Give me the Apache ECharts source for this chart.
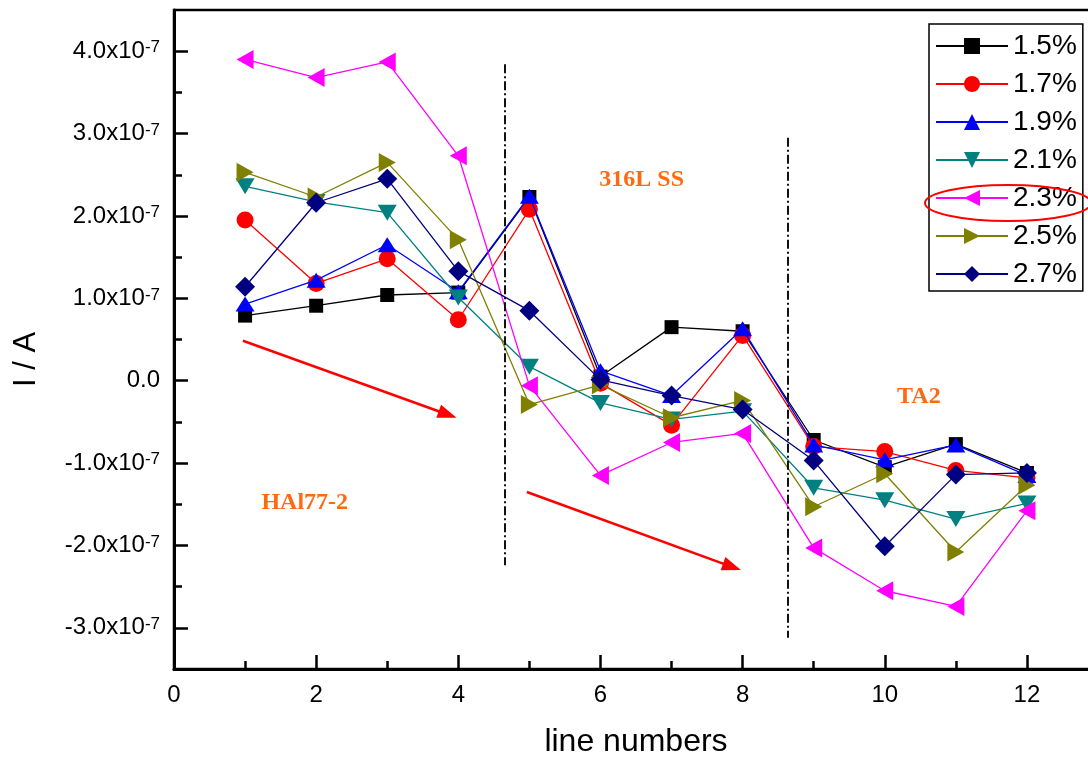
<!DOCTYPE html>
<html><head><meta charset="utf-8">
<script src="https://cdn.jsdelivr.net/npm/echarts@6/dist/echarts.min.js"></script>
<style>html,body{margin:0;padding:0;background:#fff}#c{width:1088px;height:758px}</style>
</head><body><div id="c"></div>
<script>
// x categories (line numbers)
const lineNumbers = [1,2,3,4,5,6,7,8,9,10,11,12];
// current values in units of 1e-7 A
const s15 = [0.79, 0.91, 1.04, 1.07, 2.23, 0.05, 0.65, 0.60, -0.72, -1.05, -0.77, -1.12];
const s17 = [1.95, 1.18, 1.48, 0.74, 2.08, -0.03, -0.54, 0.55, -0.80, -0.86, -1.09, -1.18];
const s19 = [0.93, 1.22, 1.65, 1.08, 2.24, 0.12, -0.18, 0.63, -0.78, -0.96, -0.78, -1.15];
const s21 = [2.36, 2.17, 2.04, 1.01, 0.17, -0.27, -0.47, -0.37, -1.30, -1.45, -1.68, -1.49];
const s23 = [3.90, 3.68, 3.87, 2.73, -0.06, -1.15, -0.75, -0.64, -2.03, -2.55, -2.74, -1.58];
const s25 = [2.53, 2.23, 2.65, 1.71, -0.29, -0.05, -0.45, -0.24, -1.53, -1.13, -2.08, -1.27];
const s27 = [1.14, 2.16, 2.45, 1.33, 0.85, 0.01, -0.18, -0.35, -0.97, -2.01, -1.14, -1.12];
const seriesNames = ['1.5%','1.7%','1.9%','2.1%','2.3%','2.5%','2.7%'];
// tick values
const xMajorTicks = [0,2,4,6,8,10,12];
const xMinorTicks = [1,3,5,7,9,11];
const yMajorTicks = [-3,-2,-1,0,1,2,3,4];
const yMinorTicks = [-2.5,-1.5,-0.5,0.5,1.5,2.5,3.5];
// annotations
const annotTexts = ['HAl77-2','316L SS','TA2'];
const annotX = [1.84, 6.58, 10.48];
const annotY = [-1.48, 2.44, -0.20];
const dividerX = [4.65, 8.64];
const dividerTop = [3.84, 2.95];
const dividerBottom = [-2.24, -3.12];
const arrowStart = [[0.97, 0.485], [4.965, -1.351]];
const arrowEnd = [[3.85, -0.41], [7.85, -2.26]];

const allValues = [s15, s17, s19, s21, s23, s25, s27];
const colors = ['#000000','#FF0000','#0000FF','#008080','#FF00FF','#808000','#000080'];
const symbols = ['rect','circle','path://M5,0L10,10L0,10Z','path://M0,0L10,0L5,10Z','path://M0,5L10,0L10,10Z','path://M0,0L10,5L0,10Z','diamond'];
const symbolSizes = [14, 17, [19,15], [19,16], [17,19], [17,19], 20];

const FONT = 'Liberation Sans';
const chart = echarts.init(document.getElementById('c'), null, {renderer:'canvas'});

const series = allValues.map((vals, i) => ({
  name: seriesNames[i],
  type: 'line',
  data: lineNumbers.map((x, k) => [x, vals[k]]),
  symbol: symbols[i],
  symbolSize: symbolSizes[i],
  showAllSymbol: true,
  color: colors[i],
  itemStyle: {color: colors[i], opacity: 1},
  lineStyle: {color: colors[i], width: 1.3},
  z: 2 + i * 0.01,
  emphasis: {disabled: true}
}));

const markLineData = [];
dividerX.forEach((x, i) => {
  markLineData.push([
    {coord: [x, dividerTop[i]], symbol: 'none', lineStyle: {color: '#111', width: 2, type: [9,3,2,3]}},
    {coord: [x, dividerBottom[i]], symbol: 'none'}
  ]);
});
arrowStart.forEach((s, i) => {
  markLineData.push([
    {coord: s, symbol: 'none', lineStyle: {color: '#FF0000', width: 2.5, type: 'solid'}},
    {coord: arrowEnd[i], symbol: 'triangle', symbolSize: [14, 19]}
  ]);
});

series.push({
  name: 'annot',
  type: 'scatter',
  symbolSize: 0,
  silent: true,
  itemStyle: {opacity: 1},
  data: annotTexts.map((t, i) => ({name: t, value: [annotX[i], annotY[i]]})),
  label: {show: true, position: 'inside', formatter: '{b}', color: '#FF6A10', opacity: 1,
          fontFamily: 'Liberation Serif', fontWeight: 'bold', fontSize: 24},
  markLine: {silent: true, symbol: 'none', label: {show: false}, animation: false,
             data: markLineData, emphasis: {disabled: true}},
  z: 1
});

const yLabel = v => {
  if (Math.abs(v) < 1e-9) return '{z|0.0}';
  return '{m|' + v.toFixed(1) + 'x10}{s|-7}';
};

chart.setOption({
  animation: false,
  backgroundColor: '#fff',
  grid: {left: 174, top: 10, width: 924, height: 659, show: true, borderColor: '#000', borderWidth: 2.5,
         backgroundColor: 'transparent', containLabel: false, outerBoundsMode: 'none'},
  legend: {
    data: seriesNames,
    orient: 'vertical',
    left: 929, top: 24,
    padding: [8, 6, 3, 6],
    itemWidth: 72, itemHeight: 20, itemGap: 10, itemTextGap: 11,
    backgroundColor: '#fff', borderColor: '#000', borderWidth: 1.5, borderRadius: 0,
    textStyle: {fontSize: 28, fontFamily: FONT, color: '#000', lineHeight: 28},
    selectedMode: false
  },
  xAxis: [{
    type: 'value', min: 0, max: 13, position: 'bottom',
    name: 'line numbers', nameLocation: 'middle', nameGap: 57,
    nameTextStyle: {fontSize: 32, fontFamily: FONT, color: '#000'},
    axisLine: {show: true, onZero: false, lineStyle: {color: '#000', width: 3}},
    axisTick: {show: true, inside: true, length: 14, customValues: xMajorTicks, lineStyle: {color: '#000', width: 2.5}},
    axisLabel: {show: true, customValues: xMajorTicks, fontSize: 24, fontFamily: FONT, color: '#000', margin: 14},
    splitLine: {show: false}
  }, {
    type: 'value', min: 0, max: 13, position: 'bottom', gridIndex: 0,
    axisLine: {show: false, onZero: false},
    axisTick: {show: true, inside: true, length: 8, customValues: xMinorTicks, lineStyle: {color: '#000', width: 2.5}},
    axisLabel: {show: false},
    splitLine: {show: false}
  }],
  yAxis: [{
    type: 'value', min: -3.5, max: 4.5, position: 'left',
    name: 'I / A', nameLocation: 'middle', nameGap: 132, nameRotate: 90,
    nameTextStyle: {fontSize: 31, fontFamily: FONT, color: '#000', padding: [0, 40, 0, 0]},
    axisLine: {show: true, onZero: false, lineStyle: {color: '#000', width: 3}},
    axisTick: {show: true, inside: true, length: 14, customValues: yMajorTicks, lineStyle: {color: '#000', width: 2.5}},
    axisLabel: {
      show: true, customValues: yMajorTicks, margin: 14, formatter: yLabel,
      rich: {
        z: {fontSize: 24, fontFamily: FONT, color: '#000', lineHeight: 24},
        m: {fontSize: 24, fontFamily: FONT, color: '#000', lineHeight: 24, verticalAlign: 'bottom'},
        s: {fontSize: 17, fontFamily: FONT, color: '#000', lineHeight: 17, verticalAlign: 'top', padding: [0, 0, 14, 0]}
      }
    },
    splitLine: {show: false}
  }, {
    type: 'value', min: -3.5, max: 4.5, position: 'left', gridIndex: 0,
    axisLine: {show: false, onZero: false},
    axisTick: {show: true, inside: true, length: 8, customValues: yMinorTicks, lineStyle: {color: '#000', width: 2.5}},
    axisLabel: {show: false},
    splitLine: {show: false}
  }],
  series: series,
  graphic: [{
    type: 'ellipse', z: 100, silent: true,
    shape: {cx: 1008, cy: 203, rx: 83, ry: 18},
    style: {fill: 'none', stroke: '#FF0000', lineWidth: 2}
  }]
});
</script>
</body></html>
